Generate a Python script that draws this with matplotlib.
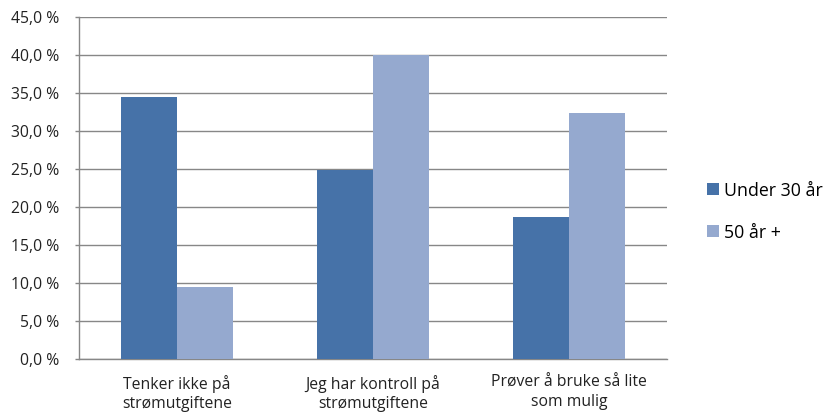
import matplotlib
matplotlib.use("Agg")
import matplotlib.pyplot as plt
import numpy as np
from matplotlib.patches import Patch

categories = ["Tenker ikke på\nstrømutgiftene", "Jeg har kontroll på\nstrømutgiftene", "Prøver å bruke så lite\nsom mulig"]
series_names = ["Under 30 år", "50 år +"]
under30 = [34.4, 24.8, 18.6]
over50 = [9.5, 40.0, 32.3]
yticks = [0, 5, 10, 15, 20, 25, 30, 35, 40, 45]
ytick_labels = ["0,0 %", "5,0 %", "10,0 %", "15,0 %", "20,0 %", "25,0 %", "30,0 %", "35,0 %", "40,0 %", "45,0 %"]

plt.rcParams['font.family'] = ['Open Sans', 'DejaVu Sans']
dark = "#4672A8"
light = "#95A9CF"
grid_c = "#878787"

fig = plt.figure(figsize=(8.29, 4.12), dpi=100)
ax = fig.add_axes([79/829, 1 - 358.7/412, (667 - 79)/829, (358.7 - 17)/412])

x = np.arange(len(categories))
w = 1 / 3.5
ax.bar(x - w/2, under30, width=w, color=dark, label=series_names[0], zorder=3)
ax.bar(x + w/2, over50, width=w, color=light, label=series_names[1], zorder=3)

ax.set_xlim(-0.5, len(categories) - 0.5)
ax.set_ylim(0, 45)
ax.set_yticks(yticks)
ax.set_yticklabels(ytick_labels, fontsize=11.3, color="#222222")
ax.set_xticks(x)
ax.set_xticklabels(categories, fontsize=11.3, color="#222222", linespacing=1.3)
ax.tick_params(axis='y', length=3, width=1, color=grid_c, pad=11)
ax.tick_params(axis='x', length=0, pad=11.5)
ax.yaxis.grid(True, color=grid_c, linewidth=1, zorder=0)
ax.set_axisbelow(True)
for s in ["top", "right"]:
    ax.spines[s].set_visible(False)
ax.spines["left"].set_color(grid_c)
ax.spines["bottom"].set_color(grid_c)
ax.spines["left"].set_linewidth(1)
ax.spines["bottom"].set_linewidth(1)

handles = [Patch(facecolor=dark), Patch(facecolor=light)]
fig.legend(handles, series_names, loc="center left", bbox_to_anchor=(707/829, 1 - 211.5/412),
           frameon=False, fontsize=12.8, handlelength=0.65, handleheight=0.65,
           handletextpad=0.3, labelspacing=1.35, borderaxespad=0, borderpad=0)

fig.savefig("out.png", dpi=100)
